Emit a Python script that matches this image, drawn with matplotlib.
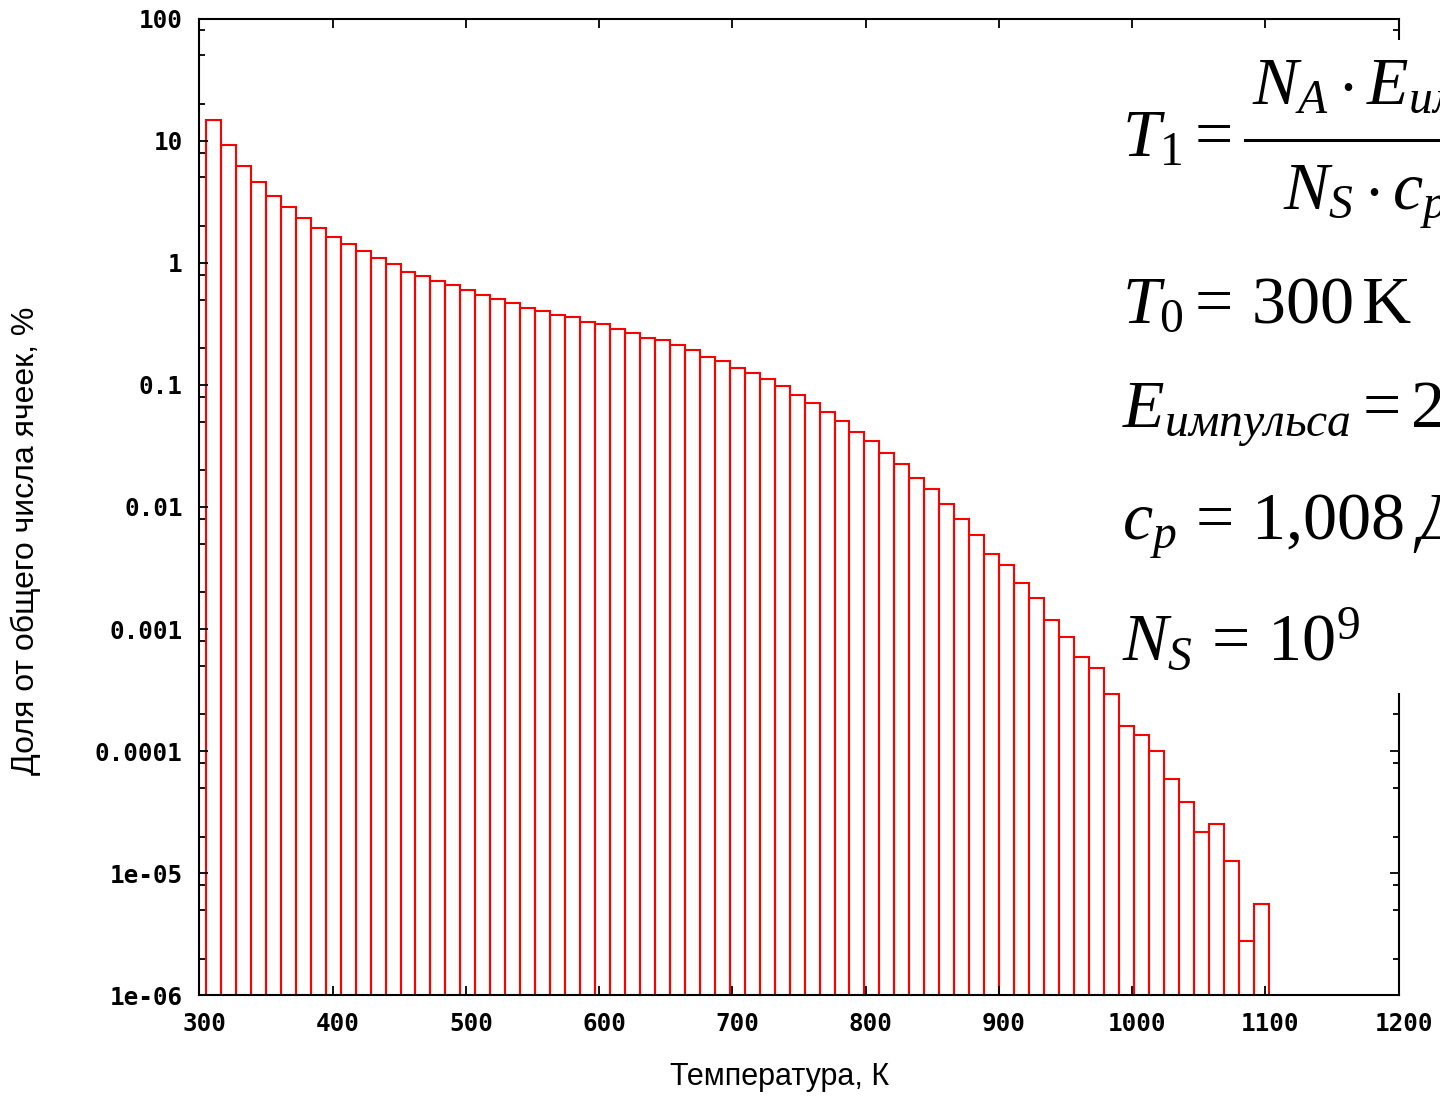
import numpy as np
import matplotlib
matplotlib.use("Agg")
import matplotlib.pyplot as plt
import matplotlib.transforms as mtransforms
from matplotlib.patches import Rectangle
from matplotlib.lines import Line2D
from matplotlib.ticker import FixedLocator, NullFormatter

# temperature bins (K) and share of cells in each bin (%)
t_start = 305.0
bin_width = 11.23
share = [14.7, 9.22, 6.21, 4.62, 3.55, 2.85, 2.31, 1.94, 1.64, 1.43,
         1.25, 1.10, 0.972, 0.846, 0.780, 0.713, 0.654, 0.599, 0.548, 0.5025,
         0.466, 0.424, 0.405, 0.374, 0.358, 0.329, 0.3135, 0.287, 0.2646, 0.242,
         0.233, 0.212, 0.194, 0.170, 0.157, 0.138, 0.126, 0.112, 0.098, 0.0822,
         0.0715, 0.060, 0.0509, 0.0409, 0.0345, 0.0278, 0.0224, 0.0172, 0.01396, 0.01064,
         0.00793, 0.00586, 0.00414, 0.00333, 0.00237, 0.00181, 0.00119, 0.000866, 0.000591, 0.000476,
         0.000294, 0.000161, 0.0001357, 0.0001004, 5.95e-5, 3.86e-5, 2.19e-5, 2.52e-5, 1.254e-5, 2.78e-6,
         5.59e-6]

x_ticks = [300, 400, 500, 600, 700, 800, 900, 1000, 1100, 1200]
y_ticks = [1e-6, 1e-5, 1e-4, 1e-3, 1e-2, 1e-1, 1, 10, 100]
y_tick_labels = ["1e-06", "1e-05", "0.0001", "0.001", "0.01", "0.1", "1", "10", "100"]

plt.rcParams['mathtext.fontset'] = 'custom'
plt.rcParams['mathtext.rm'] = 'Liberation Serif'
plt.rcParams['mathtext.it'] = 'Liberation Serif:italic'

W, H = 1440, 1096
fig = plt.figure(figsize=(W / 100, H / 100), dpi=100)
ax = fig.add_axes([199.3 / W, 1 - 995.4 / H, (1398.7 - 199.3) / W, (995.4 - 18.6) / H])

left_edges = t_start + bin_width * np.arange(len(share))
ax.bar(left_edges, share, width=bin_width, align='edge', bottom=1e-9,
       facecolor='none', edgecolor='red', linewidth=1.5)

ax.set_yscale('log')
ax.set_xlim(300, 1200)
ax.set_ylim(1e-6, 100)

ax.set_xticks(x_ticks)
ax.set_xticklabels([str(t) for t in x_ticks])
ax.yaxis.set_major_locator(FixedLocator(y_ticks))
ax.set_yticklabels(y_tick_labels)
minor = [m * 10.0 ** e for e in range(-6, 2) for m in (2, 5, 8)]
ax.yaxis.set_minor_locator(FixedLocator(minor))
ax.yaxis.set_minor_formatter(NullFormatter())
ax.xaxis.set_minor_locator(FixedLocator([]))

ax.tick_params(which='both', direction='in', top=True, right=True, width=1.3, color='black')
ax.tick_params(which='major', length=6.5)
ax.tick_params(which='minor', length=4.5)
ax.tick_params(axis='x', pad=12)
ax.tick_params(axis='y', pad=12)
shift = mtransforms.ScaledTranslation(5 / 100, 0, fig.dpi_scale_trans)
for lab in ax.get_xticklabels():
    lab.set_transform(lab.get_transform() + shift)
for lab in ax.get_xticklabels() + ax.get_yticklabels():
    lab.set_fontfamily('DejaVu Sans Mono')
    lab.set_fontweight('bold')
    lab.set_fontsize(17.5)
for sp in ax.spines.values():
    sp.set_linewidth(1.5)

fig.text(780 / W, 1 - 1077 / H, "Температура, К", ha='center', va='center',
         fontsize=22, family='Liberation Sans')
fig.text(26 / W, 1 - 541 / H, "Доля от общего числа ячеек, %", ha='center', va='center',
         rotation=90, fontsize=23, family='Liberation Sans')

# white panel with the formulas, partly covering the plot
fig.add_artist(Rectangle((1110 / W, 1 - 693 / H), (W - 1110) / W, (693 - 40) / H,
                         transform=fig.transFigure, facecolor='white', edgecolor='none', zorder=2))

fs = 49
def ftext(x, y, s):
    fig.text(x / W, 1 - y / H, s, ha='left', va='baseline', fontsize=fs, zorder=3)

ftext(1122, 157, r"$T_1=$")
ftext(1252, 105, r"$N_A \cdot E_{импульса}$")
fig.add_artist(Line2D([1245 / W, 1.0], [1 - 140 / H, 1 - 140 / H], transform=fig.transFigure,
                      color='black', linewidth=2.2, zorder=3))
ftext(1283, 210, r"$N_S \cdot c_p$")
ftext(1122, 323, r"$T_0=\,300\,\mathrm{K}$")
ftext(1122, 428, r"$E_{импульса}=2$")
ftext(1122, 540, r"$c_p\,=\,1{,}008\;Дж$")
ftext(1122, 660, r"$N_S\,=\,10^9$")

fig.savefig("out.png", dpi=100)
